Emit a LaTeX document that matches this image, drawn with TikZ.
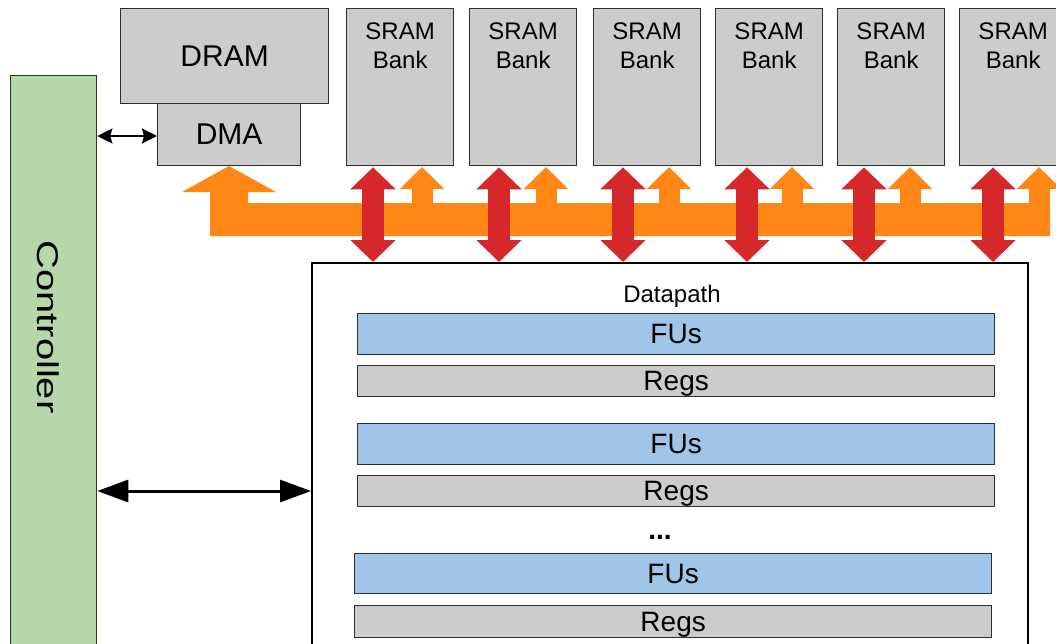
\documentclass[tikz,border=0pt]{standalone}
\usepackage{fontspec}
\setmainfont{Liberation Sans}
\usetikzlibrary{arrows.meta}
\definecolor{memgray}{HTML}{CCCCCC}
\definecolor{fublue}{HTML}{9FC5E8}
\definecolor{ctrlgreen}{HTML}{B6D7A8}
\definecolor{busorange}{HTML}{FF8716}
\definecolor{portred}{HTML}{D6282B}
\definecolor{edgegray}{HTML}{2E2E2E}
\begin{document}
\begin{tikzpicture}[x=1pt,y=-1pt,
  blk/.style={draw=edgegray, line width=1.3pt, inner sep=0pt, anchor=north west},
  mem/.style={blk, fill=memgray},
  fu/.style={blk, fill=fublue, minimum width=637pt, minimum height=41pt, font=\fontsize{28}{32}\selectfont},
  regs/.style={blk, fill=memgray, minimum width=637pt, minimum height=31pt, text depth=0pt, font=\fontsize{28}{32}\selectfont},
  bigtext/.style={font=\fontsize{30}{36}\selectfont},
  banklabel/.style={inner sep=0pt, align=center, font=\fontsize{24}{29}\selectfont},
  portarrow/.style={draw=portred, line width=22pt,
    {Triangle[length=22pt,width=44pt]}-{Triangle[length=22pt,width=44pt]}},
  busarrow/.style={draw=busorange, line width=21pt, -{Triangle[length=22pt,width=43pt]}},
  ctrlarrow/.style={draw=black, line width=3pt,
    {Triangle[length=31pt,width=22pt]}-{Triangle[length=31pt,width=22pt]}},
  dmaarrow/.style={draw=black, line width=2.4pt,
    {Stealth[length=15pt,width=15pt,inset=2pt]}-{Stealth[length=15pt,width=15pt,inset=2pt]}}]
\clip (0,0) rectangle (1056,643);
\fill[white] (0,0) rectangle (1056,643);

% controller column
\node[blk, fill=ctrlgreen, minimum width=86pt, minimum height=640pt] (ctrl) at (10,75) {};
\node[bigtext, rotate=-90, inner sep=0pt] (ctrltext) at (48,327) {\scalebox{1.33}[1]{Controller}};

% off-chip memory and DMA engine
\node[mem, bigtext, minimum width=208pt, minimum height=95pt] (dram) at (120,8) {DRAM};
\node[mem, bigtext, minimum width=143pt, minimum height=62pt] (dma) at (157,103) {DMA};

% scratchpad banks
\foreach \i/\x in {1/346,2/469,3/593,4/715,5/837,6/959} {
  \node[mem, minimum width=107pt, minimum height=157pt] (b\i) at (\x,8) {};
  \node[banklabel, anchor=north] (b\i t) at ([yshift=-15pt]b\i.north) {SRAM\\Bank};
}

% datapath with its lanes
\node[blk, draw=black, line width=2pt, minimum width=716pt, minimum height=420pt] (dp) at (311,262) {};
\node[inner sep=0pt, anchor=base, font=\fontsize{24}{29}\selectfont] (dptitle) at (672,302) {Datapath};
\node[fu] (fu1) at (357,313) {FUs};
\node[regs] (rg1) at (357,365) {Regs};
\node[fu] (fu2) at (357,423) {FUs};
\node[regs] (rg2) at (357,475) {Regs};
\node[inner sep=0pt, anchor=base, font=\fontsize{28}{32}\selectfont] (dots) at (660,539) {\textbf{...}};
\node[fu, minimum height=40pt] (fu3) at (354,553) {FUs};
\node[regs, minimum height=32pt] (rg3) at (354,605) {Regs};

% DMA bus with its feed up to the DMA engine
\fill[busorange] (210,236) -- (210,192) -- (182,192) -- (229,166) -- (276,192)
  -- (248,192) -- (248,203) -- (1050,203) -- (1050,236) -- cycle;
\foreach \i/\x in {1/422,2/546,3/669,4/792,5/910,6/1039} {
  \coordinate (bt\i) at (\x,167);
  \draw[busarrow] (\x,210) -- (bt\i);
}

% bank <-> datapath ports
\foreach \i/\d in {1/27,2/30,3/30,4/32,5/27,6/34} {
  \draw[portarrow] ([xshift=\d pt, yshift=-1pt]b\i.south west) -- ([xshift=\d pt]b\i.south west |- dp.north);
}

% controller links
\coordinate (dmaport) at (157,136);
\draw[dmaarrow] (ctrl.east |- dmaport) -- (dmaport);
\coordinate (dpport) at (311,491);
\draw[ctrlarrow] (ctrl.east |- dpport) -- (dpport);
\end{tikzpicture}
\end{document}
